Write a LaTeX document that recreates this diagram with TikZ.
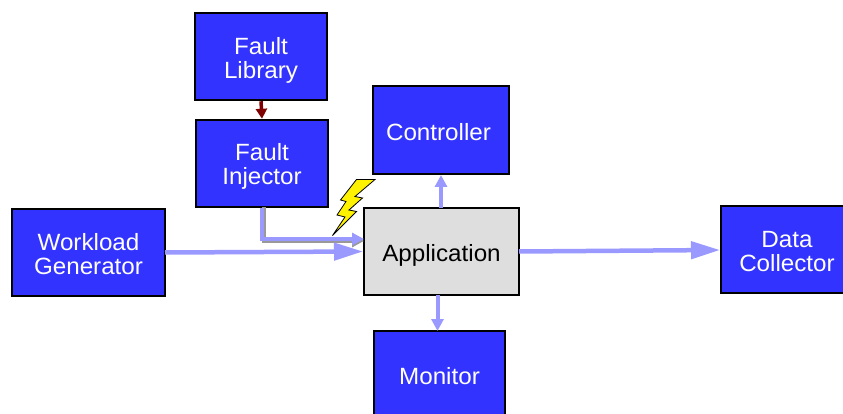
\documentclass[tikz,border=0pt]{standalone}
\usepackage{fontspec}
\setmainfont[FakeStretch=1.03]{Liberation Sans}
\usetikzlibrary{arrows.meta}
\definecolor{boxblue}{HTML}{3333FF}
\definecolor{flowblue}{HTML}{9999FF}
\definecolor{faultred}{HTML}{7F0000}
\tikzset{
	block/.style={draw=black,line width=2.5pt,fill=boxblue,text=white,align=center,font=\fontsize{23.5}{24}\selectfont,inner sep=0pt,minimum height=87pt},
	appblock/.style={block,fill=black!13,text=black},
	push/.style={text height=#1pt},
	flowbig/.style={draw=flowblue,line width=4.5pt,-{Triangle[length=29pt,width=17pt]}},
	flowsmall/.style={draw=flowblue,line width=4pt,-{Triangle[length=12pt,width=12pt]}},
	flowshadow/.style={draw=black!40,line width=4pt,-{Triangle[length=12pt,width=12pt]}},
	faultflow/.style={draw=faultred,line width=3.5pt,-{Triangle[length=10pt,width=11pt]}}
}

\begin{document}
\begin{tikzpicture}[x=1pt,y=-1pt]
	\useasboundingbox (0,0) rectangle (843,414);
	\clip (0,0) rectangle (843,414);

	\node[block,push=49,minimum width=132pt] (lib) at (261,56.5) {Fault\\Library};
	\node[block,push=47,minimum width=132pt] (inj) at (262,163.5) {Fault\\Injector};
	\node[block,push=21,minimum width=136pt,minimum height=88pt] (ctrl) at (441,130) {Controller\hspace*{5pt}};
	\node[appblock,push=25,minimum width=155pt] (app) at (441.5,251.5) {Application};
	\node[block,push=45,minimum width=153pt] (load) at (88.5,252.5) {Workload\\Generator};
	\node[block,push=45,minimum width=132pt] (coll) at (787,249.5) {Data\\Collector};
	\node[block,push=21,minimum width=131pt] (mon) at (439.5,374.5) {Monitor};

	\coordinate (inj in) at (364,239);
	\coordinate (inj in s) at (364,241);
	\coordinate (inj out s) at (263.5,207);
	\coordinate (load out) at (165,252.5);
	\coordinate (load in) at (363,251.5);
	\coordinate (coll out) at (519,251.5);
	\coordinate (coll in) at (720,250);
	\coordinate (ctrl out) at (441,208);
	\coordinate (ctrl in) at (441,175);
	\coordinate (mon out) at (437.5,295);
	\coordinate (mon in) at (437.5,331);

	\draw[flowshadow] (inj out s) |- (inj in s);
	\draw[flowsmall] (inj.south) |- (inj in);
	\draw[flowbig] (load out) -- (load in);
	\draw[flowbig] (coll out) -- (coll in);
	\draw[flowsmall] (ctrl out) -- (ctrl in);
	\draw[flowsmall] (mon out) -- (mon in);
	\draw[faultflow] (lib.south) -- (inj.north);

	\draw[fill=yellow,line width=.8pt,line join=miter] (375,179.5) -- (356.5,179.5) -- (340.5,200) -- (346,201.5) -- (337,215) -- (345,217) -- (332.5,235.5) -- (356.5,211.5) -- (349,210) -- (362.5,198) -- (355,196.5) -- cycle;
\end{tikzpicture}
\end{document}
